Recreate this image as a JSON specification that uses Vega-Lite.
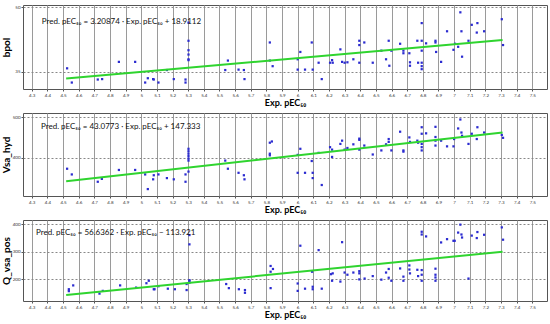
{
  "$schema": "https://vega.github.io/schema/vega-lite/v6.json",
  "padding": {"left": 0, "top": 3, "right": 3, "bottom": 0},
  "background": "white",
  "spacing": 4,
  "config": {
    "view": {"stroke": "#555", "strokeWidth": 1},
    "font": "Lato",
    "axisX": {
      "format": "~g",
      "labelFontSize": 4.5,
      "labelColor": "#333",
      "labelOverlap": false,
      "labelFlush": false,
      "tickSize": 2,
      "tickColor": "#555",
      "labelPadding": 1,
      "titleFontSize": 9,
      "titleFontWeight": "bold",
      "titleColor": "#000",
      "titlePadding": 2,
      "grid": true,
      "gridColor": "#9a9a9a",
      "gridOpacity": 1,
      "domain": false
    },
    "axisY": {
      "labelFontSize": 4.5,
      "labelColor": "#333",
      "tickSize": 2,
      "tickColor": "#555",
      "labelPadding": 1,
      "minExtent": 9,
      "maxExtent": 9,
      "titleFontSize": 10,
      "titleFontWeight": "bold",
      "titleColor": "#000",
      "titlePadding": 3,
      "grid": true,
      "gridDash": [2, 2],
      "gridColor": "#888",
      "gridOpacity": 1,
      "domain": false
    }
  },
  "datasets": {
    "p1": [
      {"x":4.526,"y":35.8},{"x":4.556,"y":32.5},{"x":4.722,"y":33.2},{"x":4.75,"y":33.3},{"x":4.857,"y":37.3},{"x":4.961,"y":37.3},{"x":5.025,"y":32.5},{"x":5.042,"y":33.5},{"x":5.076,"y":33.3},{"x":5.08,"y":33.2},{"x":5.11,"y":32.5},{"x":5.164,"y":35.4},{"x":5.208,"y":33.3},{"x":5.283,"y":33.2},{"x":5.283,"y":32.5},{"x":5.302,"y":46.4},{"x":5.302,"y":42.2},{"x":5.302,"y":40.0},{"x":5.302,"y":39.0},{"x":5.302,"y":37.9},{"x":5.302,"y":37.7},{"x":5.537,"y":35.4},{"x":5.554,"y":37.6},{"x":5.622,"y":35.5},{"x":5.656,"y":35.4},{"x":5.66,"y":33.3},{"x":5.822,"y":41.8},{"x":5.822,"y":37.6},{"x":5.84,"y":36.3},
      {"x":6.0,"y":35.5},{"x":6.0,"y":37.9},{"x":6.017,"y":39.6},{"x":6.047,"y":35.5},{"x":6.09,"y":41.8},{"x":6.096,"y":35.5},{"x":6.134,"y":37.1},{"x":6.154,"y":33.3},{"x":6.207,"y":37.1},{"x":6.22,"y":37.7},{"x":6.224,"y":37.1},{"x":6.273,"y":40.2},{"x":6.284,"y":37.3},{"x":6.3,"y":37.1},{"x":6.318,"y":37.2},{"x":6.356,"y":37.9},{"x":6.394,"y":42.2},{"x":6.394,"y":41.2},{"x":6.394,"y":37.1},{"x":6.426,"y":41.8},{"x":6.48,"y":37.1},{"x":6.535,"y":39.9},{"x":6.565,"y":37.9},{"x":6.582,"y":42.2},{"x":6.586,"y":36.4},{"x":6.599,"y":39.9},{"x":6.655,"y":41.5},{"x":6.676,"y":39.9},{"x":6.676,"y":39.3},{"x":6.714,"y":39.3},{"x":6.718,"y":37.2},{"x":6.718,"y":36.4},{"x":6.765,"y":42.2},{"x":6.77,"y":37.1},{"x":6.793,"y":46.3},{"x":6.793,"y":42.2},{"x":6.793,"y":39.9},{"x":6.793,"y":37.1},{"x":6.793,"y":36.3},{"x":6.793,"y":35.6},{"x":6.821,"y":41.6},{"x":6.881,"y":42.2},{"x":6.881,"y":41.8},{"x":6.885,"y":39.6},{"x":6.917,"y":37.3},{"x":6.955,"y":44.4},{"x":6.996,"y":40.1},{"x":7.006,"y":41.5},{"x":7.026,"y":40.8},{"x":7.04,"y":48.8},{"x":7.047,"y":44.4},{"x":7.051,"y":38.5},{"x":7.092,"y":42.2},{"x":7.113,"y":45.9},{"x":7.145,"y":44.1},{"x":7.149,"y":46.3},{"x":7.192,"y":44.4},{"x":7.305,"y":47.2},{"x":7.313,"y":41.2}
    ],
    "p2": [
      {"x":4.526,"y":373},{"x":4.556,"y":359},{"x":4.722,"y":341},{"x":4.748,"y":348},{"x":4.857,"y":370},{"x":4.961,"y":370},{"x":5.025,"y":359},{"x":5.042,"y":323},{"x":5.076,"y":347},{"x":5.08,"y":357},{"x":5.11,"y":359},{"x":5.164,"y":350},{"x":5.208,"y":347},{"x":5.283,"y":359},{"x":5.283,"y":341},{"x":5.302,"y":422},{"x":5.302,"y":416},{"x":5.302,"y":410},{"x":5.302,"y":404},{"x":5.302,"y":398},{"x":5.302,"y":393},{"x":5.302,"y":366},{"x":5.537,"y":393},{"x":5.554,"y":373},{"x":5.622,"y":363},{"x":5.656,"y":357},{"x":5.66,"y":347},{"x":5.822,"y":437},{"x":5.835,"y":440},{"x":5.822,"y":410},{"x":5.822,"y":406},
      {"x":6.0,"y":363},{"x":6.0,"y":407},{"x":6.017,"y":422},{"x":6.047,"y":363},{"x":6.09,"y":392},{"x":6.096,"y":363},{"x":6.096,"y":350},{"x":6.134,"y":412},{"x":6.154,"y":333},{"x":6.207,"y":426},{"x":6.22,"y":420},{"x":6.22,"y":402},{"x":6.273,"y":434},{"x":6.284,"y":442},{"x":6.3,"y":420},{"x":6.318,"y":424},{"x":6.356,"y":433},{"x":6.394,"y":447},{"x":6.394,"y":444},{"x":6.394,"y":420},{"x":6.426,"y":430},{"x":6.48,"y":408},{"x":6.535,"y":418},{"x":6.565,"y":433},{"x":6.582,"y":446},{"x":6.582,"y":439},{"x":6.599,"y":418},{"x":6.655,"y":464},{"x":6.676,"y":418},{"x":6.676,"y":415},{"x":6.714,"y":450},{"x":6.718,"y":439},{"x":6.765,"y":442},{"x":6.77,"y":437},{"x":6.793,"y":475},{"x":6.793,"y":459},{"x":6.793,"y":434},{"x":6.793,"y":426},{"x":6.793,"y":418},{"x":6.821,"y":460},{"x":6.881,"y":476},{"x":6.881,"y":451},{"x":6.881,"y":442},{"x":6.881,"y":430},{"x":6.917,"y":442},{"x":6.955,"y":428},{"x":6.996,"y":428},{"x":7.0,"y":446},{"x":7.026,"y":472},{"x":7.04,"y":494},{"x":7.047,"y":462},{"x":7.051,"y":454},{"x":7.092,"y":434},{"x":7.113,"y":459},{"x":7.145,"y":446},{"x":7.149,"y":475},{"x":7.192,"y":462},{"x":7.305,"y":456},{"x":7.313,"y":449}
    ],
    "p3": [
      {"x":4.537,"y":163},{"x":4.537,"y":156},{"x":4.565,"y":177},{"x":4.733,"y":147},{"x":4.754,"y":157},{"x":4.865,"y":177},{"x":4.967,"y":169},{"x":5.033,"y":185},{"x":5.048,"y":194},{"x":5.08,"y":163},{"x":5.085,"y":163},{"x":5.11,"y":174},{"x":5.17,"y":165},{"x":5.215,"y":163},{"x":5.29,"y":182},{"x":5.29,"y":160},{"x":5.308,"y":361},{"x":5.308,"y":327},{"x":5.308,"y":196},{"x":5.308,"y":194},{"x":5.308,"y":187},{"x":5.543,"y":182},{"x":5.56,"y":167},{"x":5.624,"y":163},{"x":5.663,"y":160},{"x":5.663,"y":150},{"x":5.827,"y":248},{"x":5.827,"y":227},{"x":5.842,"y":237},{"x":5.827,"y":167},
      {"x":6.0,"y":184},{"x":6.0,"y":157},{"x":6.017,"y":322},{"x":6.047,"y":165},{"x":6.092,"y":227},{"x":6.096,"y":172},{"x":6.096,"y":163},{"x":6.134,"y":306},{"x":6.154,"y":165},{"x":6.213,"y":218},{"x":6.224,"y":221},{"x":6.22,"y":194},{"x":6.273,"y":191},{"x":6.284,"y":335},{"x":6.3,"y":224},{"x":6.318,"y":216},{"x":6.356,"y":224},{"x":6.394,"y":229},{"x":6.394,"y":221},{"x":6.394,"y":199},{"x":6.428,"y":202},{"x":6.48,"y":211},{"x":6.535,"y":198},{"x":6.565,"y":224},{"x":6.582,"y":237},{"x":6.582,"y":205},{"x":6.599,"y":194},{"x":6.655,"y":239},{"x":6.676,"y":209},{"x":6.676,"y":194},{"x":6.714,"y":250},{"x":6.714,"y":235},{"x":6.718,"y":221},{"x":6.765,"y":234},{"x":6.77,"y":211},{"x":6.793,"y":373},{"x":6.793,"y":363},{"x":6.793,"y":233},{"x":6.793,"y":216},{"x":6.793,"y":194},{"x":6.821,"y":356},{"x":6.881,"y":238},{"x":6.881,"y":216},{"x":6.881,"y":206},{"x":6.881,"y":194},{"x":6.917,"y":334},{"x":6.955,"y":346},{"x":6.996,"y":340},{"x":7.004,"y":340},{"x":7.026,"y":370},{"x":7.04,"y":399},{"x":7.047,"y":363},{"x":7.051,"y":352},{"x":7.092,"y":202},{"x":7.113,"y":359},{"x":7.145,"y":350},{"x":7.149,"y":372},{"x":7.192,"y":362},{"x":7.305,"y":389},{"x":7.313,"y":344}
    ],
    "l1": [{"x":4.52,"y":33.41},{"x":7.31,"y":42.37}],
    "l2": [{"x":4.52,"y":342.04},{"x":7.31,"y":462.23}],
    "l3": [{"x":4.52,"y":142.08},{"x":7.31,"y":300.09}],
    "t1": [{"x":4.364,"y":46.5,"label":"Pred. pEC₅₀ = 3.20874 · Exp. pEC₅₀ + 18.9112"}],
    "t2": [{"x":4.359,"y":475.6,"label":"Pred. pEC₅₀ = 43.0773  · Exp. pEC₅₀ + 147.333"}],
    "t3": [{"x":4.327,"y":367,"label":"Pred. pEC₅₀ = 56.6362  · Exp. pEC₅₀ − 113.921"}]
  },
  "vconcat": [
    {
      "width": 524, "height": 84,
      "layer": [
        {"data": {"name": "p1"}, "mark": {"type": "square", "size": 5, "color": "#2b2bd0", "opacity": 1},
         "encoding": {
           "x": {"field": "x", "type": "quantitative", "scale": {"domain": [4.244, 7.594], "nice": false, "zero": false}, "axis": {"title": "Exp. pEC₅₀", "labelOverlap": false, "tickCount": 60, "values": [4.3,4.4,4.5,4.6,4.7,4.8,4.9,5,5.1,5.2,5.3,5.4,5.5,5.6,5.7,5.8,5.9,6,6.1,6.2,6.3,6.4,6.5,6.6,6.7,6.8,6.9,7,7.1,7.2,7.3,7.4,7.5]}},
           "y": {"field": "y", "type": "quantitative", "scale": {"domain": [31, 50.5], "nice": false, "zero": false}, "axis": {"title": "bpol", "values": [35, 40, 45, 50]}}}},
        {"data": {"name": "l1"}, "mark": {"type": "line", "color": "#2fd42f", "strokeWidth": 2},
         "encoding": {"x": {"field": "x", "type": "quantitative"}, "y": {"field": "y", "type": "quantitative"}}},
        {"data": {"name": "t1"}, "mark": {"type": "text", "align": "left", "baseline": "middle", "fontSize": 8, "color": "#111"},
         "encoding": {"x": {"field": "x", "type": "quantitative"}, "y": {"field": "y", "type": "quantitative"}, "text": {"field": "label"}}}
      ]
    },
    {
      "width": 524, "height": 83,
      "layer": [
        {"data": {"name": "p2"}, "mark": {"type": "square", "size": 5, "color": "#2b2bd0", "opacity": 1},
         "encoding": {
           "x": {"field": "x", "type": "quantitative", "scale": {"domain": [4.244, 7.594], "nice": false, "zero": false}, "axis": {"title": "Exp. pEC₅₀", "labelOverlap": false, "tickCount": 60, "values": [4.3,4.4,4.5,4.6,4.7,4.8,4.9,5,5.1,5.2,5.3,5.4,5.5,5.6,5.7,5.8,5.9,6,6.1,6.2,6.3,6.4,6.5,6.6,6.7,6.8,6.9,7,7.1,7.2,7.3,7.4,7.5]}},
           "y": {"field": "y", "type": "quantitative", "scale": {"domain": [306, 510], "nice": false, "zero": false}, "axis": {"title": "Vsa_hyd", "values": [400, 500]}}}},
        {"data": {"name": "l2"}, "mark": {"type": "line", "color": "#2fd42f", "strokeWidth": 2},
         "encoding": {"x": {"field": "x", "type": "quantitative"}, "y": {"field": "y", "type": "quantitative"}}},
        {"data": {"name": "t2"}, "mark": {"type": "text", "align": "left", "baseline": "middle", "fontSize": 8, "color": "#111"},
         "encoding": {"x": {"field": "x", "type": "quantitative"}, "y": {"field": "y", "type": "quantitative"}, "text": {"field": "label"}}}
      ]
    },
    {
      "width": 524, "height": 81,
      "layer": [
        {"data": {"name": "p3"}, "mark": {"type": "square", "size": 5, "color": "#2b2bd0", "opacity": 1},
         "encoding": {
           "x": {"field": "x", "type": "quantitative", "scale": {"domain": [4.244, 7.594], "nice": false, "zero": false}, "axis": {"title": "Exp. pEC₅₀", "labelOverlap": false, "tickCount": 60, "values": [4.3,4.4,4.5,4.6,4.7,4.8,4.9,5,5.1,5.2,5.3,5.4,5.5,5.6,5.7,5.8,5.9,6,6.1,6.2,6.3,6.4,6.5,6.6,6.7,6.8,6.9,7,7.1,7.2,7.3,7.4,7.5]}},
           "y": {"field": "y", "type": "quantitative", "scale": {"domain": [120, 416], "nice": false, "zero": false}, "axis": {"title": "Q_vsa_pos", "values": [200, 300, 400]}}}},
        {"data": {"name": "l3"}, "mark": {"type": "line", "color": "#2fd42f", "strokeWidth": 2},
         "encoding": {"x": {"field": "x", "type": "quantitative"}, "y": {"field": "y", "type": "quantitative"}}},
        {"data": {"name": "t3"}, "mark": {"type": "text", "align": "left", "baseline": "middle", "fontSize": 8, "color": "#111"},
         "encoding": {"x": {"field": "x", "type": "quantitative"}, "y": {"field": "y", "type": "quantitative"}, "text": {"field": "label"}}}
      ]
    }
  ]
}
